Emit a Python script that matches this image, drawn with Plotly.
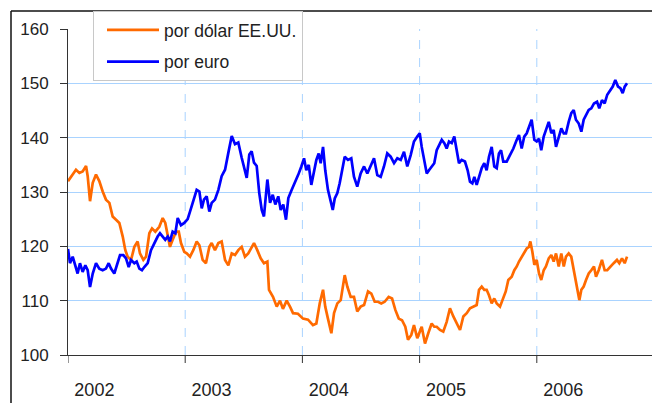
import plotly.graph_objects as go

START_YEAR = 2002

# Yen exchange rates, sampled roughly every two weeks (time as years after START_YEAR)
usd_t = [
    0.000, 0.040, 0.068, 0.097, 0.125, 0.154, 0.168, 0.188, 0.211, 0.239,
    0.267, 0.296, 0.324, 0.353, 0.381, 0.410, 0.438, 0.467, 0.489, 0.509,
    0.538, 0.566, 0.594, 0.614, 0.643, 0.666, 0.694, 0.717, 0.745, 0.779,
    0.808, 0.830, 0.851, 0.870, 0.893, 0.922, 0.945, 0.964, 0.992,
    1.013, 1.041, 1.069, 1.098, 1.121, 1.149, 1.177, 1.206, 1.226, 1.254,
    1.283, 1.311, 1.340, 1.368, 1.397, 1.425, 1.453, 1.482, 1.510, 1.538,
    1.567, 1.587, 1.615, 1.644, 1.672, 1.701, 1.715, 1.749, 1.781, 1.809,
    1.834, 1.866, 1.894, 1.920, 1.962,
    2.005, 2.048, 2.090, 2.119, 2.148, 2.176, 2.195, 2.218, 2.247, 2.270,
    2.298, 2.327, 2.346, 2.361, 2.383, 2.412, 2.440, 2.468, 2.497, 2.526,
    2.560, 2.588, 2.617, 2.645, 2.673, 2.702, 2.736, 2.765, 2.793, 2.822,
    2.850, 2.878, 2.901, 2.929, 2.952, 2.980,
    3.018, 3.046, 3.074, 3.103, 3.125, 3.146, 3.174, 3.202, 3.231, 3.259,
    3.288, 3.316, 3.345, 3.373, 3.402, 3.430, 3.458, 3.487, 3.507, 3.530,
    3.552, 3.572, 3.592, 3.615, 3.637, 3.658, 3.686, 3.714, 3.735, 3.757,
    3.786, 3.808, 3.829, 3.848, 3.871, 3.893, 3.914, 3.933, 3.945, 3.962,
    3.979, 3.999, 4.019,
    4.038, 4.059, 4.078, 4.102, 4.124, 4.144, 4.164, 4.187, 4.209, 4.230,
    4.249, 4.272, 4.294, 4.315, 4.329, 4.343, 4.363, 4.380, 4.400, 4.420,
    4.443, 4.465, 4.488, 4.505, 4.528, 4.556, 4.579, 4.601, 4.627, 4.656,
    4.684, 4.704, 4.727, 4.750, 4.770,
]
yen_per_usd = [
    132.0, 133.2, 134.1, 133.5, 133.8, 134.8, 132.9, 128.3, 131.7, 133.2,
    132.0, 130.1, 128.6, 128.0, 125.5, 124.9, 124.3, 121.8, 119.3, 118.1,
    117.5, 119.9, 120.9, 118.7, 117.5, 118.1, 122.4, 123.3, 122.7, 123.6,
    125.2, 124.3, 121.8, 119.9, 121.2, 122.7, 122.7, 120.6, 119.0,
    118.7, 118.1, 119.3, 120.9, 120.2, 117.5, 116.9, 119.9, 120.6, 119.3,
    120.6, 120.9, 117.5, 116.5, 118.7, 118.4, 119.3, 119.9, 118.1, 118.7,
    119.9, 120.6, 119.3, 117.8, 116.9, 117.2, 112.0, 110.7, 108.9, 110.0,
    108.5, 110.0, 108.9, 107.7, 107.6,
    106.7, 106.5, 105.5, 105.8, 109.5, 112.0, 108.9, 106.7, 104.0, 107.7,
    109.5, 110.1, 113.2, 114.7, 112.6, 110.7, 110.7, 108.0, 108.9, 109.2,
    111.7, 111.3, 109.8, 109.8, 109.5, 109.8, 110.7, 110.4, 108.3, 106.7,
    106.4, 105.2, 102.8, 103.7, 105.5, 103.1,
    105.2, 102.1, 104.0, 105.8, 105.2, 105.2, 104.6, 104.3, 106.1, 108.6,
    107.1, 105.8, 104.6, 107.1, 107.7, 108.6, 108.9, 109.2, 112.0, 112.6,
    112.0, 112.0, 111.0, 109.5, 110.4, 109.5, 108.9, 110.4, 111.7, 113.8,
    114.4, 115.6, 116.3, 117.2, 118.1, 119.0, 119.6, 119.9, 120.9, 119.0,
    116.6, 117.5, 115.0,
    113.8, 115.6, 116.3, 117.8, 118.4, 117.2, 118.7, 116.3, 118.7, 116.3,
    118.1, 118.7, 118.1, 115.6, 113.8, 112.6, 110.1, 112.0, 112.6, 113.8,
    115.0, 115.6, 116.3, 114.4, 115.6, 117.5, 115.6, 115.6, 116.3, 116.9,
    117.5, 116.9, 117.8, 116.9, 118.1,
]

eur_t = [
    0.000, 0.017, 0.040, 0.063, 0.082, 0.102, 0.125, 0.148, 0.168, 0.188,
    0.211, 0.239, 0.267, 0.296, 0.324, 0.347, 0.367, 0.395, 0.424, 0.444,
    0.472, 0.495, 0.518, 0.538, 0.566, 0.586, 0.609, 0.631, 0.651, 0.680,
    0.708, 0.736, 0.765, 0.785, 0.808, 0.830, 0.851, 0.870, 0.893, 0.916,
    0.936, 0.964, 0.992, 1.021,
    1.041, 1.069, 1.098, 1.121, 1.141, 1.160, 1.183, 1.206, 1.226, 1.254,
    1.283, 1.311, 1.340, 1.368, 1.397, 1.425, 1.453, 1.482, 1.502, 1.525,
    1.547, 1.567, 1.587, 1.610, 1.632, 1.653, 1.672, 1.701, 1.724, 1.747,
    1.769, 1.794, 1.815, 1.837, 1.860, 1.880, 1.909, 1.937, 1.965,
    1.991, 2.014, 2.033, 2.054, 2.076, 2.099, 2.119, 2.139, 2.156, 2.176,
    2.195, 2.218, 2.241, 2.259, 2.276, 2.298, 2.318, 2.338, 2.361, 2.389,
    2.417, 2.440, 2.468, 2.497, 2.526, 2.554, 2.583, 2.611, 2.639, 2.668,
    2.696, 2.724, 2.753, 2.782, 2.810, 2.839, 2.867, 2.895, 2.924, 2.952,
    2.980, 3.001,
    3.018, 3.040, 3.061, 3.080, 3.103, 3.125, 3.146, 3.166, 3.189, 3.211,
    3.231, 3.251, 3.274, 3.296, 3.316, 3.336, 3.359, 3.387, 3.410, 3.430,
    3.450, 3.467, 3.487, 3.507, 3.530, 3.552, 3.572, 3.592, 3.615, 3.637,
    3.658, 3.677, 3.695, 3.714, 3.743, 3.771, 3.800, 3.829, 3.848, 3.871,
    3.893, 3.914, 3.933, 3.956, 3.979, 3.999, 4.019,
    4.038, 4.059, 4.078, 4.102, 4.124, 4.144, 4.164, 4.187, 4.209, 4.230,
    4.249, 4.272, 4.294, 4.315, 4.334, 4.358, 4.380, 4.400, 4.420, 4.443,
    4.465, 4.488, 4.514, 4.533, 4.556, 4.579, 4.601, 4.625, 4.648, 4.670,
    4.693, 4.713, 4.733, 4.750, 4.770,
]
yen_per_eur = [
    119.5, 116.9, 118.1, 116.2, 115.0, 116.9, 115.3, 116.5, 115.6, 112.5,
    115.0, 116.9, 115.9, 115.6, 115.9, 116.9, 115.9, 115.0, 116.9, 118.4,
    118.4, 117.8, 116.2, 117.5, 116.9, 117.2, 115.9, 115.6, 116.2, 116.9,
    119.3, 120.6, 121.8, 122.4, 121.8, 121.2, 121.8, 120.9, 122.7, 122.4,
    125.2, 123.9, 124.3, 125.0,
    126.4, 128.6, 130.4, 130.1, 127.0, 128.6, 129.2, 126.4, 128.0, 128.6,
    130.4, 132.9, 134.1, 137.2, 140.3, 138.8, 139.1, 136.3, 134.8, 132.6,
    136.9, 137.5, 135.4, 134.8, 129.8, 126.7, 125.5, 132.3, 128.0, 129.5,
    127.7, 129.2, 126.7, 127.7, 124.9, 128.9, 130.4, 131.7, 133.2,
    134.7, 136.2, 134.0, 135.0, 131.3, 134.0, 135.9, 137.1, 135.3, 138.3,
    134.0, 130.4, 128.5, 126.7, 128.8, 129.8, 131.6, 134.0, 136.5, 135.9,
    136.2, 132.8, 131.0, 133.4, 134.7, 133.4, 134.7, 136.2, 133.1, 132.8,
    134.7, 137.1, 136.5, 135.3, 136.2, 135.9, 137.4, 134.7, 136.8, 139.3,
    140.2, 140.8,
    138.3, 135.9, 133.4, 134.0, 134.7, 135.3, 137.7, 138.7, 139.6, 139.0,
    138.0, 139.3, 139.0, 140.2, 137.7, 135.3, 135.9, 135.6, 134.0, 131.9,
    131.6, 132.8, 131.3, 132.8, 134.4, 135.3, 134.0, 136.5, 138.3, 134.7,
    134.4, 137.1, 137.7, 135.6, 135.6, 136.8, 138.0, 139.6, 140.5, 138.0,
    140.2, 140.8, 142.0, 143.3, 139.6, 139.3, 139.8,
    137.7, 140.2, 141.4, 142.9, 140.8, 141.4, 138.3, 140.2, 141.7, 140.8,
    140.8, 142.9, 144.5, 145.1, 143.3, 142.6, 141.1, 143.3, 144.2, 145.1,
    145.4, 146.3, 146.6, 145.4, 146.9, 146.3, 147.9, 148.8, 149.4, 150.6,
    149.4, 149.1, 148.2, 149.4, 150.0,
]

year_labels = ["2002", "2003", "2004", "2005", "2006"]
year_bounds = [2002, 2003, 2004, 2005, 2006]
y_ticks = [100, 110, 120, 130, 140, 150, 160]

assert len(usd_t) == len(yen_per_usd)
assert len(eur_t) == len(yen_per_eur)

FONT = "Liberation Sans, Arial, sans-serif"
GRID = "#A9D3FF"
INK = "#222222"
AXIS = "#333333"

fig = go.Figure()
fig.add_trace(go.Scatter(
    x=[START_YEAR + t for t in usd_t], y=yen_per_usd, mode="lines",
    name="por dólar EE.UU.", line=dict(color="#FF6A00", width=2.7),
    legendgroup="a",
))
fig.add_trace(go.Scatter(
    x=[START_YEAR + t for t in eur_t], y=yen_per_eur, mode="lines",
    name="por euro", line=dict(color="#0000FF", width=2.7),
    legendgroup="b",
))

x_range = [2002, 2002 + 584 / 117.2]
plot_h = 403 - 29 - 48

# year boundaries: dashed vertical guides and short outside tick marks
shapes = []
for yb in year_bounds:
    if yb > year_bounds[0]:
        shapes.append(dict(type="line", xref="x", yref="paper", layer="below",
                           x0=yb, x1=yb, y0=0, y1=1,
                           line=dict(color=GRID, width=1, dash="dash")))
    shapes.append(dict(type="line", xref="x", yref="paper",
                       x0=yb, x1=yb, y0=0, y1=-8 / plot_h,
                       line=dict(color=AXIS, width=1)))

# outer frame (top and left edges)
shapes += [
    dict(type="line", xref="paper", yref="paper",
         x0=-57 / 584, x1=1.01, y0=1 + 18 / plot_h, y1=1 + 18 / plot_h,
         line=dict(color="#111", width=1.5)),
    dict(type="line", xref="paper", yref="paper",
         x0=-57 / 584, x1=-57 / 584, y0=1 + 18 / plot_h, y1=-0.16,
         line=dict(color="#111", width=1.5)),
]

fig.update_layout(
    width=652, height=403,
    margin=dict(l=68, r=0, t=29, b=48),
    paper_bgcolor="white", plot_bgcolor="white",
    font=dict(family=FONT, color=INK, size=17),
    showlegend=True,
    legend=dict(
        x=25 / 584, y=1 + 18 / plot_h, xanchor="left", yanchor="top",
        bgcolor="white", bordercolor="#C8C8C8", borderwidth=1,
        font=dict(family=FONT, size=17.5, color=INK),
        itemwidth=52, tracegroupgap=6, indentation=8,
    ),
    xaxis=dict(
        range=x_range, tickmode="array",
        tickvals=[y + 0.225 for y in year_bounds], ticktext=year_labels,
        ticks="", showgrid=False,
        tickfont=dict(family=FONT, size=18, color=INK),
        ticklabelstandoff=18,
        showline=True, linecolor=AXIS, linewidth=1, zeroline=False,
    ),
    yaxis=dict(
        range=[100, 160], tickmode="array", tickvals=y_ticks,
        ticks="outside", ticklen=7, tickcolor=AXIS,
        showgrid=True, gridcolor=GRID, gridwidth=1,
        showline=True, linecolor=AXIS, linewidth=1, zeroline=False,
        tickfont=dict(family=FONT, size=17, color=INK),
        ticklabelstandoff=8,
    ),
    shapes=shapes,
)

fig.write_html("out.html")
